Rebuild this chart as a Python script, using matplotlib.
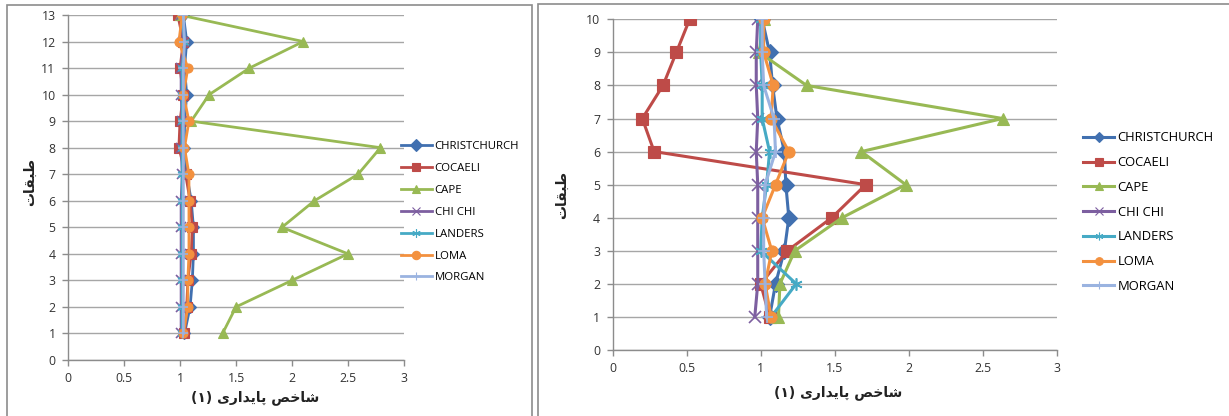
import matplotlib
matplotlib.use("Agg")
import matplotlib.pyplot as plt
from matplotlib.patches import Rectangle

# series names and floor numbers
names = ["CHRISTCHURCH", "COCAELI", "CAPE", "CHI CHI", "LANDERS", "LOMA", "MORGAN"]
floors_a = [1, 2, 3, 4, 5, 6, 7, 8, 9, 10, 11, 12, 13]
floors_b = [1, 2, 3, 4, 5, 6, 7, 8, 9, 10]

# stability index per floor, 13-storey frame
christchurch_a = [1.04, 1.09, 1.11, 1.12, 1.12, 1.10, 1.06, 1.04, 1.04, 1.06, 1.04, 1.06, 1.03]
cocaeli_a = [1.04, 1.06, 1.07, 1.10, 1.11, 1.09, 1.05, 0.99, 1.00, 1.03, 1.00, 1.03, 0.98]
cape_a = [1.38, 1.50, 2.00, 2.50, 1.91, 2.20, 2.59, 2.79, 1.10, 1.26, 1.62, 2.10, 1.00]
chichi_a = [1.01, 1.01, 1.01, 1.01, 1.01, 1.01, 1.02, 1.01, 1.02, 1.01, 1.01, 1.03, 1.01]
landers_a = [1.02, 1.02, 1.02, 1.02, 1.02, 1.02, 1.02, 1.02, 1.02, 1.02, 1.02, 1.04, 1.02]
loma_a = [1.03, 1.07, 1.07, 1.08, 1.08, 1.08, 1.08, 1.04, 1.08, 1.03, 1.07, 0.99, 1.02]
morgan_a = [1.03, 1.03, 1.03, 1.03, 1.03, 1.03, 1.03, 1.03, 1.03, 1.03, 1.03, 1.04, 1.03]

# stability index per floor, 10-storey frame
christchurch_b = [1.06, 1.10, 1.16, 1.19, 1.17, 1.16, 1.11, 1.08, 1.06, 1.01]
cocaeli_b = [1.06, 1.00, 1.18, 1.48, 1.71, 0.28, 0.20, 0.34, 0.43, 0.52]
cape_b = [1.12, 1.13, 1.23, 1.55, 1.98, 1.68, 2.635, 1.31, 0.99, 1.02]
chichi_b = [0.96, 0.98, 0.98, 0.98, 0.98, 0.97, 0.98, 0.97, 0.97, 0.98]
landers_b = [1.07, 1.24, 1.00, 1.01, 1.04, 1.06, 1.01, 1.01, 1.00, 1.00]
loma_b = [1.07, 1.03, 1.075, 1.01, 1.10, 1.19, 1.07, 1.085, 1.02, 1.02]
morgan_b = [1.04, 1.03, 1.02, 1.02, 1.03, 1.10, 1.09, 1.02, 1.01, 1.01]

colors = ["#4170B0", "#BE4B48", "#98B954", "#7D5FA0", "#46AAC5", "#F3913F", "#9AB3E0"]
markers = ["D", "s", "^", "x", (6, 2, 0), "o", "+"]

# matplotlib has no Arabic shaping, so labels are given as presentation forms in visual order
xlabel_txt = "(\u06F1) \uFBFC\uFEAD\uFE8D\uFEAA\uFBFE\uFE8E\uFB58 \uFEBA\uFEA7\uFE8E\uFEB7"
ylabel_txt = "\uFE95\uFE8E\uFED8\uFE92\uFEC3"

W, H = 1229, 416
fig = plt.figure(figsize=(W / 100, H / 100), dpi=100)

# chart frames
fig.patches.append(Rectangle((7 / W, -0.05), (531.5 - 7) / W, 1.05 - 5 / H,
                             transform=fig.transFigure, fill=False,
                             edgecolor="#8c8c8c", lw=1.2))
fig.patches.append(Rectangle((537.5 / W, -0.05), 0.6, 1.05 - 4 / H,
                             transform=fig.transFigure, fill=False,
                             edgecolor="#8c8c8c", lw=1.2))


def draw_panel(ax, floors, series, ymax, msize, lw, legend_pos, legend_fs,
               legend_spacing, handlelen, legend_msize):
    for vals, name, c, m in zip(series, names, colors, markers):
        filled = m in ("D", "s", "^", "o")
        ax.plot(vals, floors, color=c, lw=lw, marker=m,
                markersize=msize if filled else msize * 1.1,
                markeredgewidth=0.8 if filled else 1.2,
                markerfacecolor=c, markeredgecolor=c, label=name,
                solid_joinstyle="miter")
    ax.set_xlim(0, 3)
    ax.set_ylim(0, ymax)
    ax.set_xticks([0, 0.5, 1, 1.5, 2, 2.5, 3])
    ax.set_xticklabels(["0", "0.5", "1", "1.5", "2", "2.5", "3"])
    ax.set_yticks(range(0, ymax + 1))
    ax.yaxis.grid(True, color="#a6a6a6", lw=1)
    ax.set_axisbelow(True)
    for s in ("top", "right"):
        ax.spines[s].set_visible(False)
    for s in ("left", "bottom"):
        ax.spines[s].set_color("#8c8c8c")
        ax.spines[s].set_linewidth(1)
    ax.tick_params(colors="#8c8c8c", labelcolor="#333333", length=4,
                   width=1, labelsize=8.8, pad=5)
    for lab in ax.get_xticklabels() + ax.get_yticklabels():
        lab.set_family("Open Sans")
    ax.patch.set_alpha(0)
    leg = fig.legend(loc="center left", bbox_to_anchor=legend_pos,
                     frameon=False, borderpad=0,
                     borderaxespad=0, handlelength=handlelen,
                     handletextpad=0.25, labelspacing=legend_spacing,
                     handles=ax.get_lines(),
                     prop={"family": "Open Sans", "size": legend_fs})
    for h in leg.legend_handles:
        h.set_markersize(legend_msize)
        h.set_markeredgewidth(0.8)
    return leg


ax1 = fig.add_axes([68 / W, 1 - 360 / H, 336 / W, 345 / H])
draw_panel(ax1, floors_a,
           [christchurch_a, cocaeli_a, cape_a, chichi_a, landers_a, loma_a, morgan_a],
           13, 6.5, 2.0, (401 / W, 1 - 212.4 / H), 8.2, 0.95, 2.7, 6)

ax2 = fig.add_axes([612.7 / W, 1 - 350 / H, 444 / W, 330.7 / H])
draw_panel(ax2, floors_b,
           [christchurch_b, cocaeli_b, cape_b, chichi_b, landers_b, loma_b, morgan_b],
           10, 8, 2.2, (1083 / W, 1 - 212.2 / H), 9.4, 0.9, 2.4, 5.5)

# axis titles
fig.text(255 / W, 1 - 398 / H, xlabel_txt, ha="center", va="center",
         fontsize=10, fontweight="bold", family="DejaVu Sans", color="#222222")
fig.text(30 / W, 1 - 182 / H, ylabel_txt, ha="center", va="center", rotation=90,
         fontsize=10, fontweight="bold", family="DejaVu Sans", color="#222222")
fig.text(838 / W, 1 - 393 / H, xlabel_txt, ha="center", va="center",
         fontsize=10, fontweight="bold", family="DejaVu Sans", color="#222222")
fig.text(562 / W, 1 - 195 / H, ylabel_txt, ha="center", va="center", rotation=90,
         fontsize=10, fontweight="bold", family="DejaVu Sans", color="#222222")

fig.savefig("out.png", dpi=100)
